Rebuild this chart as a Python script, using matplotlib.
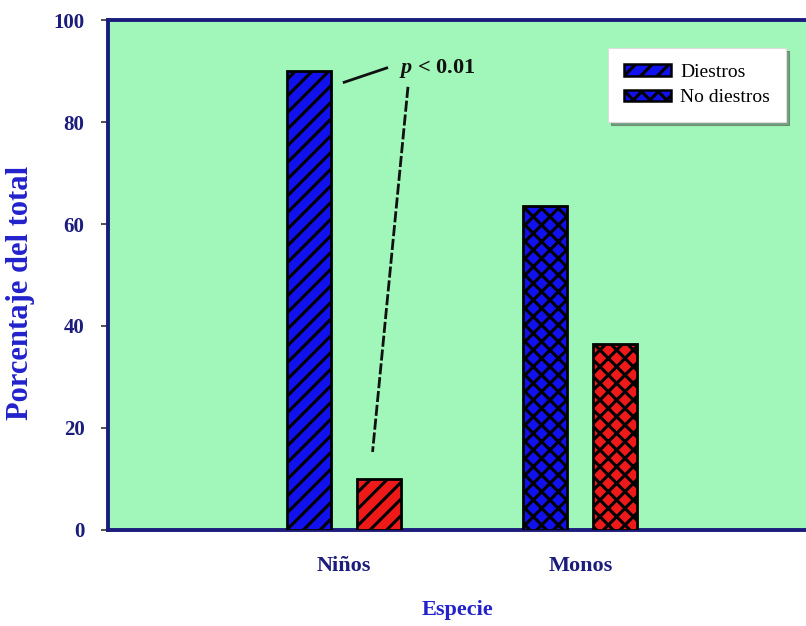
import numpy as np
import matplotlib
matplotlib.use("Agg")
import matplotlib.pyplot as plt
from matplotlib.patches import Patch

# ── data ────────────────────────────────────────────────────────────────
species  = ["Niños", "Monos"]
diestros = [90.0, 63.6]
no_diest = [10.0, 36.4]
hatches  = ["//", "xx"]          # Niños diagonal, Monos cross-hatched

# annotation anchors (data coords)
short_line  = ([1.00, 1.18], [87.8, 90.6])
dashed_line = ([1.27, 1.12], [86.9, 15.3])
p_text_pos  = (1.23, 89.6)

GREEN = "#a0f7b9"
BLUE  = "#1111ee"
RED   = "#ee1a1a"
NAVY  = "#1c1c7c"
LBLUE = "#2222cc"

plt.rcParams["font.family"] = ["Liberation Serif", "DejaVu Serif"]
plt.rcParams["hatch.linewidth"] = 2.2
plt.rcParams["hatch.color"] = "black"
plt.rcParams["mathtext.fontset"] = "custom"
plt.rcParams["mathtext.it"] = "Liberation Serif:italic:bold"
plt.rcParams["mathtext.rm"] = "Liberation Serif:bold"

fig = plt.figure(figsize=(8.06, 6.26), dpi=100)
ax = fig.add_axes([0.134, 0.1534, 0.866, 0.8146])
ax.set_facecolor(GREEN)

x = np.arange(1, len(species) + 1)
w = 0.186
off = 0.148
for i in range(len(species)):
    ax.bar(x[i] - off, diestros[i], w, color=BLUE, edgecolor="black",
           lw=2, hatch=hatches[i], zorder=3)
    ax.bar(x[i] + off, no_diest[i], w, color=RED, edgecolor="black",
           lw=2, hatch=hatches[i], zorder=3)

ax.set_xlim(0, 2.955)
ax.set_ylim(0, 100)
ax.set_xticks(x)
ax.set_xticklabels(species)
ax.set_yticks(np.arange(0, 101, 20))

for s in ["left", "bottom", "top"]:
    ax.spines[s].set_color(NAVY)
    ax.spines[s].set_linewidth(2.8)
ax.spines["right"].set_visible(False)

ax.tick_params(axis="y", direction="out", length=5, width=1.2, color="#333333",
               labelsize=15, labelcolor=NAVY, pad=12)
ax.tick_params(axis="x", length=0, labelsize=16, labelcolor=NAVY, pad=19)
for lab in ax.get_xticklabels() + ax.get_yticklabels():
    lab.set_fontweight("bold")

ax.set_ylabel("Porcentaje del total", fontsize=22, fontweight="bold",
              color=LBLUE)
ax.yaxis.set_label_coords(-0.104, 0.465)
ax.set_xlabel("Especie", fontsize=16, fontweight="bold", color=LBLUE,
              labelpad=17)

# p-value annotation
ax.plot(*short_line, color="#111111", lw=2, zorder=4)
ax.plot(*dashed_line, color="#111111", lw=2, ls=(0, (4, 1)), zorder=4)
ax.text(*p_text_pos, r"$p$ < 0.01", fontsize=16, fontweight="bold",
        color="#111111", ha="left", va="baseline", zorder=5)

handles = [Patch(facecolor=BLUE, edgecolor="black", hatch="//", lw=1.8),
           Patch(facecolor=BLUE, edgecolor="black", hatch="xx", lw=1.8)]
leg = ax.legend(handles, ["Diestros", "No diestros"], loc="upper right",
                bbox_to_anchor=(0.971, 0.945), fontsize=14, frameon=True,
                fancybox=False, shadow=True, handlelength=2.4,
                handleheight=0.55, borderpad=0.8, labelspacing=0.45,
                handletextpad=0.5, borderaxespad=0)
leg.get_frame().set_edgecolor("#dddddd")
leg.get_frame().set_linewidth(0.8)
leg.get_frame().set_facecolor("white")
leg.set_zorder(6)

fig.savefig("out.png", dpi=100)
